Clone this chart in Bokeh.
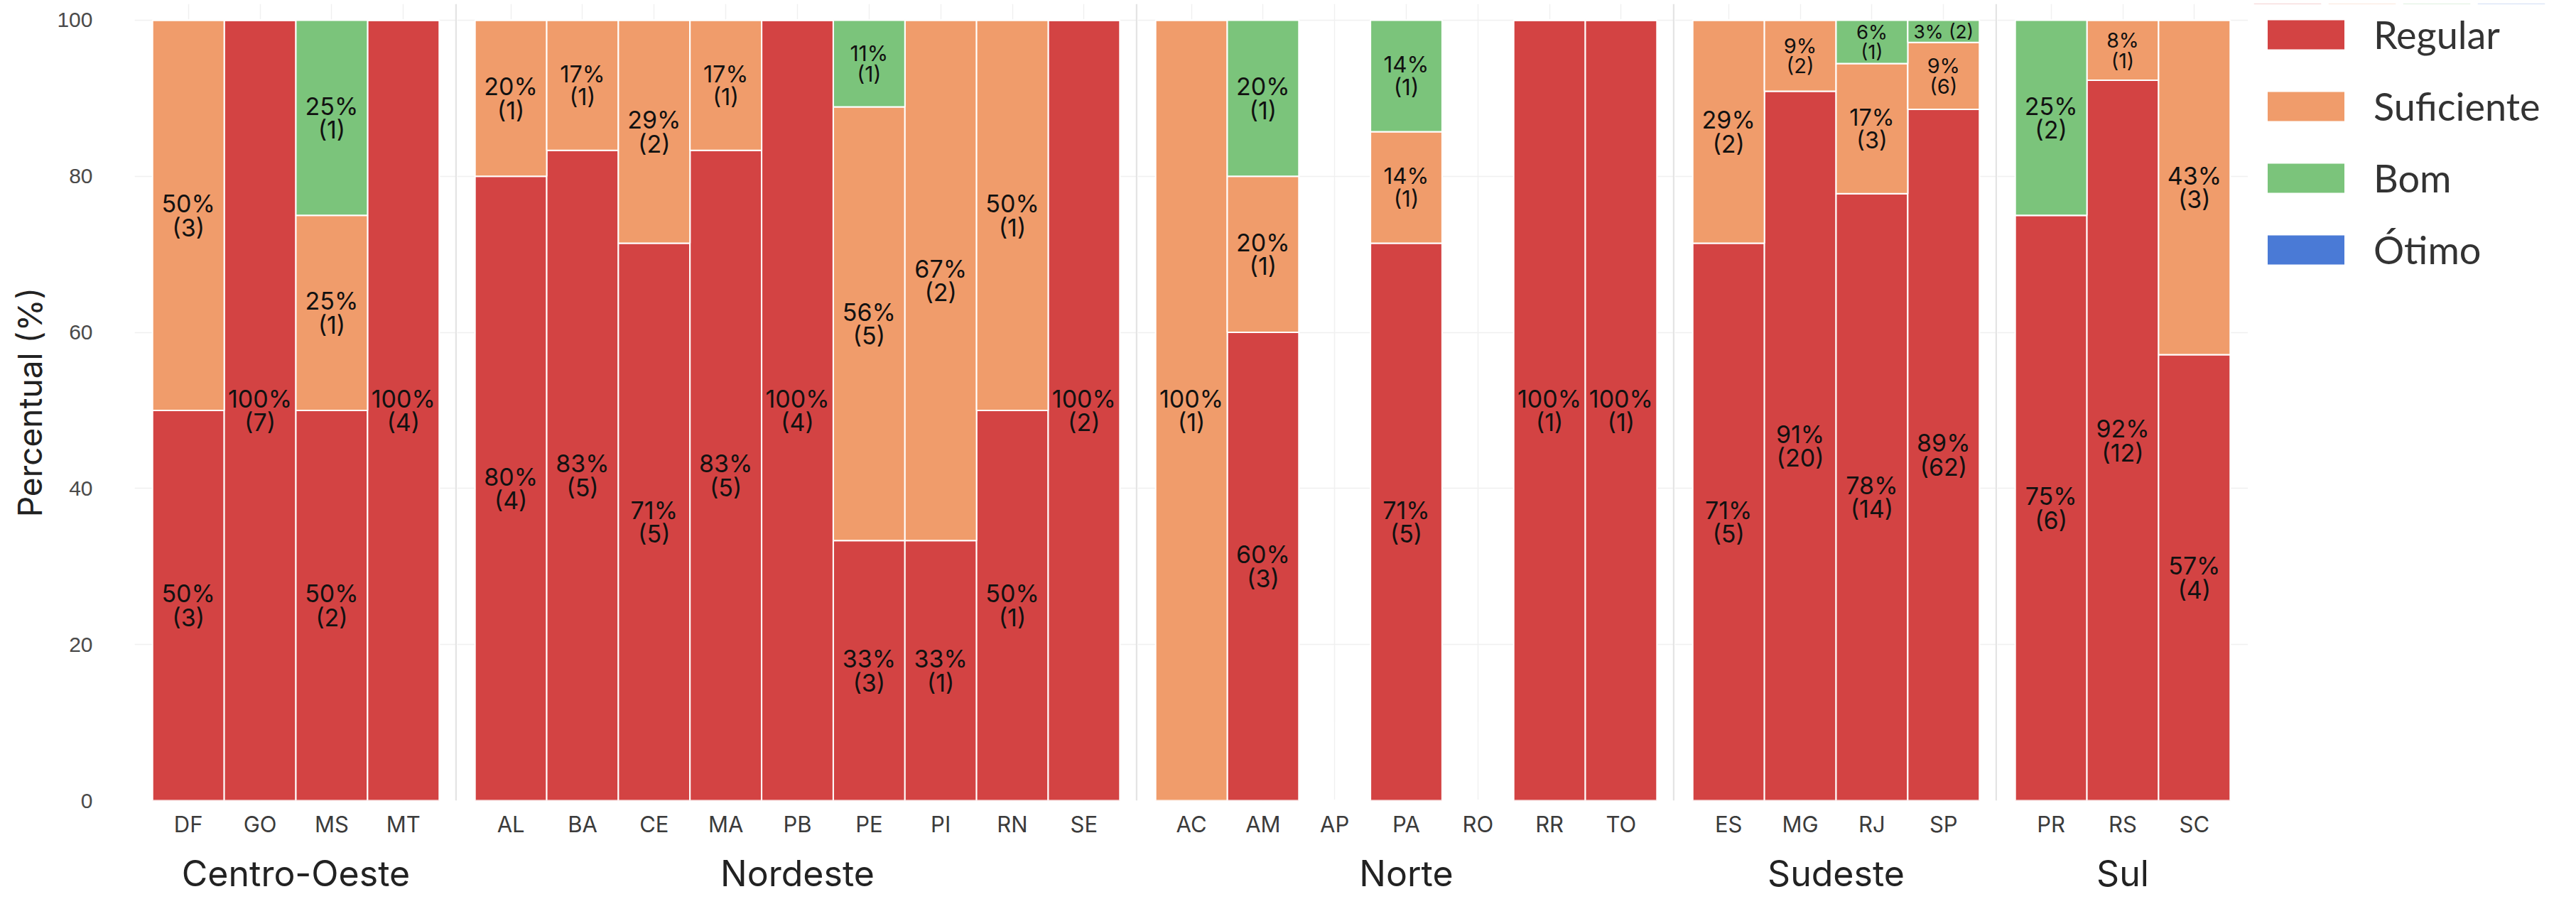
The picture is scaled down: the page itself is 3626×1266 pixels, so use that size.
from bokeh.plotting import figure
from bokeh.layouts import row
from bokeh.models import (ColumnDataSource, FactorRange, Range1d, FixedTicker,
                          Span, Legend, LegendItem)
from bokeh.core.properties import value
from bokeh.embed import file_html
from bokeh.resources import INLINE

# ---------------- data (counts per state and rating) ----------------
STATUS = ["Regular", "Suficiente", "Bom", "Ótimo"]
COLORS = ["#D34343", "#F09C6B", "#7BC47B", "#4A7AD6"]
Y_TICKS = [0, 20, 40, 60, 80, 100]

regions = ["Centro-Oeste", "Nordeste", "Norte", "Sudeste", "Sul"]

co_states = ["DF", "GO", "MS", "MT"]
co_regular = [3, 7, 2, 4]
co_suficiente = [3, 0, 1, 0]
co_bom = [0, 0, 1, 0]
co_otimo = [0, 0, 0, 0]

ne_states = ["AL", "BA", "CE", "MA", "PB", "PE", "PI", "RN", "SE"]
ne_regular = [4, 5, 5, 5, 4, 3, 1, 1, 2]
ne_suficiente = [1, 1, 2, 1, 0, 5, 2, 1, 0]
ne_bom = [0, 0, 0, 0, 0, 1, 0, 0, 0]
ne_otimo = [0, 0, 0, 0, 0, 0, 0, 0, 0]

no_states = ["AC", "AM", "AP", "PA", "RO", "RR", "TO"]
no_regular = [0, 3, 0, 5, 0, 1, 1]
no_suficiente = [1, 1, 0, 1, 0, 0, 0]
no_bom = [0, 1, 0, 1, 0, 0, 0]
no_otimo = [0, 0, 0, 0, 0, 0, 0]

se_states = ["ES", "MG", "RJ", "SP"]
se_regular = [5, 20, 14, 62]
se_suficiente = [2, 2, 3, 6]
se_bom = [0, 0, 1, 2]
se_otimo = [0, 0, 0, 0]

su_states = ["PR", "RS", "SC"]
su_regular = [6, 12, 4]
su_suficiente = [0, 1, 3]
su_bom = [2, 0, 0]
su_otimo = [0, 0, 0]

panels_data = [
    (regions[0], co_states, co_regular, co_suficiente, co_bom, co_otimo),
    (regions[1], ne_states, ne_regular, ne_suficiente, ne_bom, ne_otimo),
    (regions[2], no_states, no_regular, no_suficiente, no_bom, no_otimo),
    (regions[3], se_states, se_regular, se_suficiente, se_bom, se_otimo),
    (regions[4], su_states, su_regular, su_suficiente, su_bom, su_otimo),
]

# ---------------- layout / style constants ----------------
U = 100.8          # px per category
PAD = 0.25         # padding (in categories) on each side of a panel
TOP_BORDER = 5
BOTTOM_BORDER = 4
FRAME_H = 1122
Y_TOP = 102.09
LEFT_BORDER = 189
GRID_COLOR = "#f0f0f0"
SEP_COLOR = "#e4e4e4"
FONT = "Inter"


def label_size(pct):
    return "%.1fpx" % (25 + 9 * min(pct, 20) / 20.0)


def make_panel(idx, region, sts, reg, suf, bom, oti):
    first = idx == 0
    n = len(sts)
    xr = FactorRange(factors=list(sts), range_padding=PAD,
                     range_padding_units="absolute")
    p = figure(x_range=xr, y_range=Range1d(0, Y_TOP),
               frame_width=int(round((n + 2 * PAD) * U)), frame_height=FRAME_H,
               output_backend="svg", toolbar_location=None,
               y_axis_location="left" if first else None,
               min_border_left=LEFT_BORDER if first else 0,
               min_border_right=0, min_border_top=TOP_BORDER,
               min_border_bottom=BOTTOM_BORDER)
    p.outline_line_color = None
    p.background_fill_color = "white"
    p.border_fill_color = "white"

    counts = [reg, suf, bom, oti]
    totals = [sum(c[i] for c in counts) for i in range(n)]
    pcts = [[(100.0 * c[i] / totals[i]) if totals[i] else 0.0 for i in range(n)]
            for c in counts]

    src = ColumnDataSource(dict(state=list(sts), Regular=pcts[0],
                                Suficiente=pcts[1], Bom=pcts[2]))
    p.vbar_stack(["Regular", "Suficiente", "Bom"], x="state", width=1.0,
                 fill_color=COLORS[:3], line_color="white", line_width=2,
                 source=src)

    # labels
    lx, ly, lt, ls = [], [], [], []
    for i in range(n):
        base = 0.0
        for k in range(3):
            pc = pcts[k][i]
            c = counts[k][i]
            if c > 0:
                pr = int(pc + 0.5)
                if pc < 5:
                    txt = "%d%% (%d)" % (pr, c)
                else:
                    txt = "%d%%\n(%d)" % (pr, c)
                lx.append(sts[i])
                ly.append(base + pc / 2.0)
                lt.append(txt)
                ls.append(label_size(pc))
            base += pc
    lsrc = ColumnDataSource(dict(x=lx, y=ly, text=lt, size=ls))
    p.text(x="x", y="y", text="text", source=lsrc, text_align="center",
           text_baseline="middle", text_font=value(FONT),
           text_font_size="size", text_line_height=0.82, text_color="#111111")

    # grid
    p.xgrid.grid_line_color = GRID_COLOR
    p.xgrid.grid_line_width = 1.5
    p.ygrid.grid_line_color = GRID_COLOR
    p.ygrid.grid_line_width = 1.5
    p.ygrid.ticker = FixedTicker(ticks=Y_TICKS)

    # separator on the right of panels (except last)
    if idx < len(panels_data) - 1:
        p.add_layout(Span(location=n + PAD - 0.012, dimension="height",
                          line_color=SEP_COLOR, line_width=3))

    # x axis
    ax = p.xaxis[0]
    ax.axis_label = region
    ax.axis_label_text_font = FONT
    ax.axis_label_text_font_size = "50px"
    ax.axis_label_text_font_style = "normal"
    ax.axis_label_text_color = "#222222"
    ax.axis_label_standoff = 18
    ax.major_label_text_font = FONT
    ax.major_label_text_font_size = "31px"
    ax.major_label_text_color = "#3b3b3b"
    ax.major_label_standoff = 14
    ax.axis_line_color = None
    ax.major_tick_line_color = None
    ax.minor_tick_line_color = None
    ax.major_tick_out = 0
    ax.major_tick_in = 0

    if first:
        ya = p.yaxis[0]
        ya.ticker = FixedTicker(ticks=Y_TICKS)
        ya.axis_label = "Percentual (%)"
        ya.axis_label_text_font = FONT
        ya.axis_label_text_font_size = "46px"
        ya.axis_label_text_font_style = "normal"
        ya.axis_label_text_color = "#222222"
        ya.axis_label_standoff = 7
        ya.major_label_text_font = "Liberation Sans"
        ya.major_label_text_font_size = "30px"
        ya.major_label_text_color = "#4a4a4a"
        ya.major_label_standoff = 59
        ya.axis_line_color = None
        ya.major_tick_line_color = None
        ya.minor_tick_line_color = None
        ya.major_tick_out = 0
        ya.major_tick_in = 0
        ya.minor_tick_out = 0
        ya.minor_tick_in = 0
    return p


figs = [make_panel(i, *d) for i, d in enumerate(panels_data)]

# ---------------- legend panel ----------------
# totals per rating (all states) feed the legend swatch renderers,
# which sit outside the visible y range of this legend-only figure
all_counts = [
    co_regular + ne_regular + no_regular + se_regular + su_regular,
    co_suficiente + ne_suficiente + no_suficiente + se_suficiente + su_suficiente,
    co_bom + ne_bom + no_bom + se_bom + su_bom,
    co_otimo + ne_otimo + no_otimo + se_otimo + su_otimo,
]
status_totals = [sum(c) for c in all_counts]

lg = figure(frame_width=420, frame_height=470,
            x_range=FactorRange(factors=STATUS), y_range=Range1d(-2, -1),
            output_backend="svg", toolbar_location=None,
            x_axis_location=None, y_axis_location=None,
            min_border_left=3, min_border_right=0, min_border_top=TOP_BORDER,
            min_border_bottom=0)
lg.outline_line_color = None
lg.grid.visible = False
items = []
for name, col, tot in zip(STATUS, COLORS, status_totals):
    s = ColumnDataSource(dict(x=[name], top=[tot]))
    r = lg.vbar(x="x", top="top", width=0.9, source=s, fill_color=col,
                line_alpha=0)
    items.append(LegendItem(label=name, renderers=[r]))
leg = Legend(items=items, location="top_left", margin=11, padding=20,
             glyph_width=135, glyph_height=51, label_standoff=28, spacing=36,
             label_text_font="Lato", label_text_font_size="54px",
             label_text_color="#333333", border_line_color=None,
             background_fill_alpha=0)
lg.add_layout(leg)

layout = row(*figs, lg)
open("out.html", "w").write(file_html(layout, INLINE))
